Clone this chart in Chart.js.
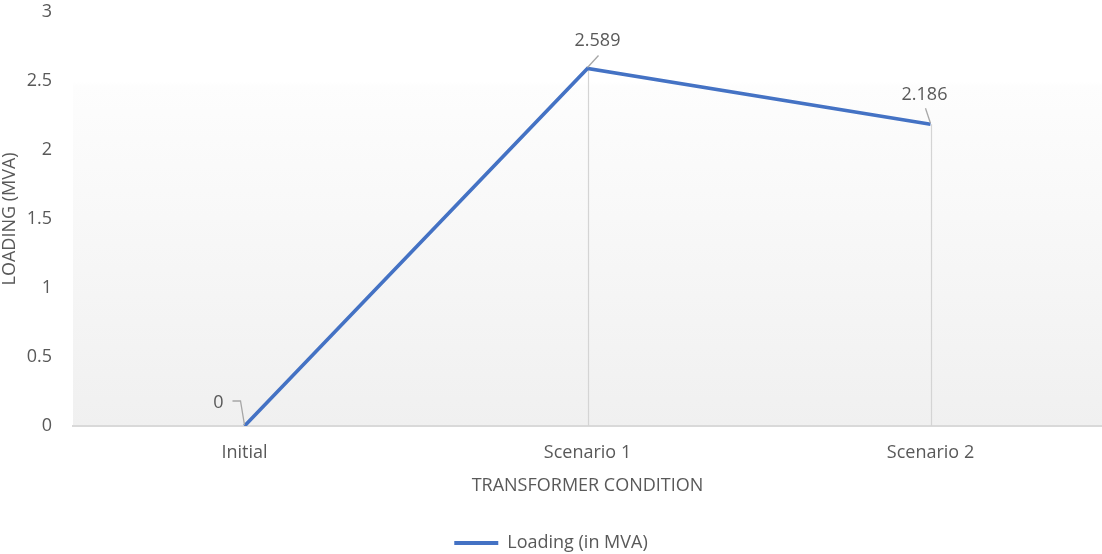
<!DOCTYPE html>
<html>
<head>
<meta charset="utf-8">
<script src="https://cdn.jsdelivr.net/npm/chart.js@4"></script>
<style>
  html, body { margin: 0; padding: 0; background: #ffffff; }
  #wrap { width: 1102px; height: 554px; position: relative; }
</style>
</head>
<body>
<div id="wrap"><canvas id="c"></canvas></div>
<script>
// Transformer loading per condition
const categories = ['Initial', 'Scenario 1', 'Scenario 2'];
const loadingMVA = [0, 2.589, 2.186];
const seriesName = 'Loading (in MVA)';
const xTitle = 'TRANSFORMER CONDITION';
const yTitle = 'LOADING (MVA)';

const FONT = '"Open Sans", "Noto Sans", sans-serif';
const TEXT = '#595959';
const BLUE = '#4472c4';

// Soft vertical gradient behind the plot area
const plotBackground = {
  id: 'plotBackground',
  beforeDraw(chart) {
    const { ctx, chartArea: a } = chart;
    const g = ctx.createLinearGradient(0, a.top, 0, a.bottom);
    g.addColorStop(0, '#ffffff');
    g.addColorStop(0.17, '#ffffff');
    g.addColorStop(0.18, '#fdfdfd');
    g.addColorStop(1, '#f0f0f0');
    ctx.save();
    ctx.fillStyle = g;
    ctx.fillRect(a.left, a.top, a.right - a.left, a.bottom - a.top);
    ctx.restore();
  }
};

// Vertical drop lines from each point down to the category axis
const dropLines = {
  id: 'dropLines',
  beforeDatasetsDraw(chart) {
    const { ctx } = chart;
    const meta = chart.getDatasetMeta(0);
    const y0 = chart.scales.y.getPixelForValue(0);
    ctx.save();
    ctx.strokeStyle = '#d4d4d4';
    ctx.lineWidth = 1.2;
    meta.data.forEach(pt => {
      ctx.beginPath();
      ctx.moveTo(Math.round(pt.x) + 0.5, pt.y);
      ctx.lineTo(Math.round(pt.x) + 0.5, y0);
      ctx.stroke();
    });
    ctx.restore();
  }
};

// Value labels placed beside each point, tied to it by a short leader line.
// Offsets: label centre relative to the point, then the leader's start relative to the label centre.
const labelPlacement = [
  { dx: -26, dy: -23, lx: 14, ly: -2, elbow: 8 },
  { dx: 10, dy: -28, lx: 1, ly: 15, elbow: 0 },
  { dx: -6, dy: -29, lx: 1, ly: 13, elbow: 0 }
];
const valueLabels = {
  id: 'valueLabels',
  afterDatasetsDraw(chart) {
    const { ctx } = chart;
    const meta = chart.getDatasetMeta(0);
    const values = chart.data.datasets[0].data;
    ctx.save();
    ctx.font = '18px ' + FONT;
    ctx.fillStyle = TEXT;
    ctx.textAlign = 'center';
    ctx.textBaseline = 'middle';
    ctx.strokeStyle = '#a6a6a6';
    ctx.lineWidth = 1.3;
    meta.data.forEach((pt, i) => {
      const o = labelPlacement[i];
      const tx = pt.x + o.dx, ty = pt.y + o.dy;
      ctx.fillText(String(values[i]), tx, ty);
      ctx.beginPath();
      ctx.moveTo(tx + o.lx, ty + o.ly);
      if (o.elbow) ctx.lineTo(tx + o.lx + o.elbow, ty + o.ly);
      ctx.lineTo(pt.x, pt.y - 1);
      ctx.stroke();
    });
    ctx.restore();
  }
};

new Chart(document.getElementById('c'), {
  type: 'line',
  data: {
    labels: categories,
    datasets: [{
      label: seriesName,
      data: loadingMVA,
      borderColor: BLUE,
      backgroundColor: BLUE,
      borderWidth: 3.6,
      pointRadius: 0,
      tension: 0,
      fill: false
    }]
  },
  options: {
    responsive: true,
    maintainAspectRatio: false,
    animation: false,
    layout: { padding: { top: 0, left: 0, right: 0, bottom: -8 } },
    plugins: {
      tooltip: { enabled: false },
      legend: {
        position: 'bottom',
        labels: {
          font: { family: FONT, size: 18 },
          color: TEXT,
          boxWidth: 44,
          boxHeight: 4,
          padding: 4,
          generateLabels(chart) {
            const items = Chart.defaults.plugins.legend.labels.generateLabels(chart);
            items.forEach(it => { it.lineWidth = 0; });
            return items;
          }
        }
      }
    },
    scales: {
      x: {
        type: 'category',
        offset: true,
        grid: { display: false },
        border: { display: true, color: '#d9d9d9', width: 2 },
        ticks: { font: { family: FONT, size: 18 }, color: TEXT, padding: 8 },
        title: {
          display: true, text: xTitle, color: TEXT,
          font: { family: FONT, size: 18 }, padding: { top: 0, bottom: 33 }
        },
        afterFit(s) { s.height = 104; }
      },
      y: {
        min: 0, max: 3,
        grid: { display: false, tickLength: 20 },
        border: { display: false },
        ticks: {
          stepSize: 0.5, font: { family: FONT, size: 18 }, color: TEXT, padding: 1,
          callback: v => String(v)
        },
        title: {
          display: true, text: yTitle, color: TEXT,
          font: { family: FONT, size: 18 }, padding: { top: -1, bottom: 0 }
        },
        afterFit(s) { s.width = 73; }
      }
    }
  },
  plugins: [plotBackground, dropLines, valueLabels]
});
</script>
</body>
</html>
